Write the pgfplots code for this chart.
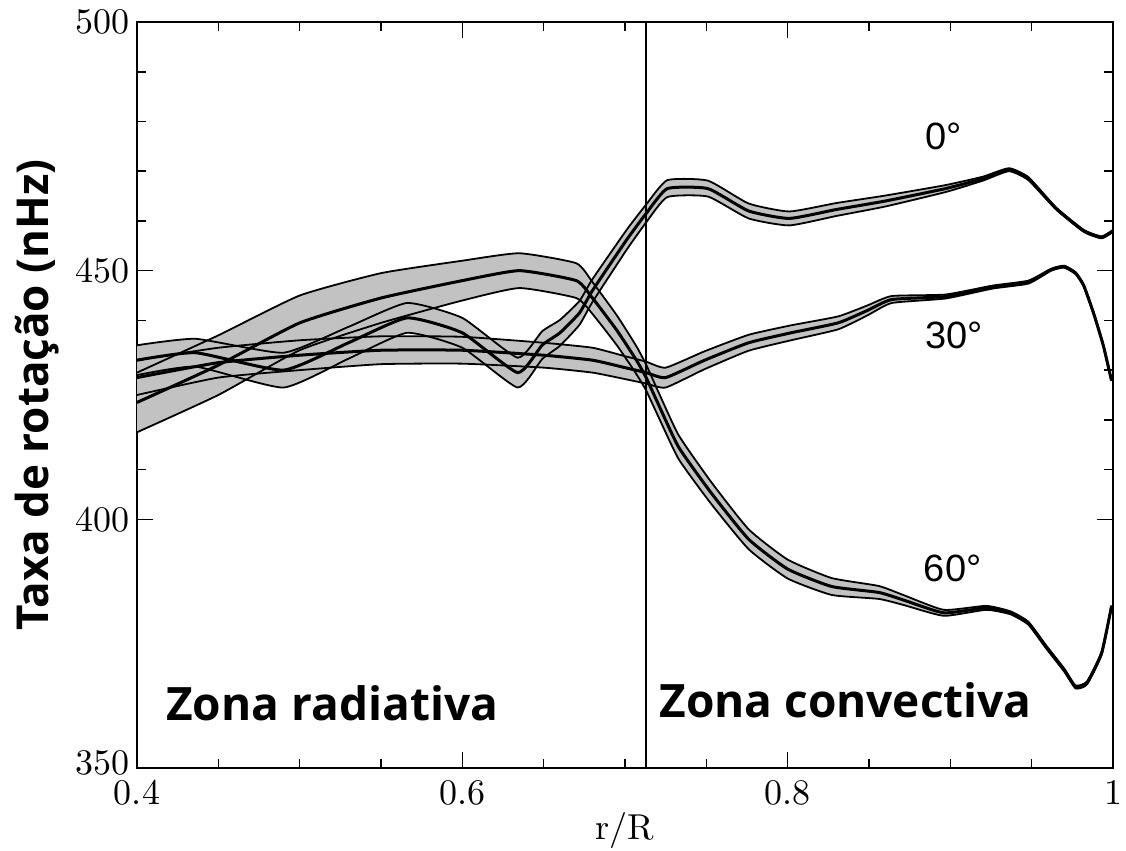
\documentclass[border=0pt]{standalone}
\usepackage{fontspec}
\usepackage{pgfplots}
\usepackage{pgfplotstable}
\pgfplotsset{compat=1.18}
\usepgfplotslibrary{fillbetween}
\usetikzlibrary{calc}
\newfontfamily\labelfont{Open Sans}
\newfontfamily\helv{Liberation Sans}
\newfontfamily\tickfont{lmroman10-regular.otf}

% x = r/R, c = centre (nHz), h = half width of band
\pgfplotstableread{
x c h
0.400 432.0 3.0
0.436 433.5 2.8
0.490 430.0 3.5
0.530 435.5 3.2
0.566 440.5 3.0
0.600 437.5 3.0
0.634 429.5 3.0
0.649 435.0 2.8
0.660 437.5 2.6
0.672 441.5 2.4
0.680 446.0 2.3
0.701 456.2 2.0
0.713 461.5 1.8
0.726 466.5 1.7
0.751 466.5 1.6
0.776 462.0 1.5
0.801 460.5 1.4
0.830 462.3 1.3
0.860 464.0 1.1
0.897 466.5 0.7
0.920 468.5 0.4
0.936 470.3 0.3
0.948 468.5 0.3
0.965 462.5 0.2
0.982 458.0 0.2
0.993 456.7 0.2
1.000 458.0 0.2
}\bandA

\pgfplotstableread{
x c h
0.400 428.5 3.5
0.450 431.5 3.0
0.500 433.0 3.0
0.550 434.0 2.8
0.600 434.0 2.7
0.650 433.0 2.5
0.680 432.0 2.5
0.700 430.5 2.3
0.713 429.5 2.2
0.725 428.5 2.0
0.749 432.0 1.8
0.776 435.5 1.6
0.802 437.5 1.5
0.831 439.5 1.3
0.849 442.0 1.0
0.864 444.2 0.7
0.897 444.8 0.4
0.926 446.7 0.3
0.948 447.7 0.3
0.962 450.2 0.2
0.970 450.8 0.2
0.977 449.5 0.2
0.982 447.0 0.2
0.988 441.5 0.2
0.994 435.0 0.2
0.999 428.0 0.2
}\bandB

\pgfplotstableread{
x c h
0.400 423.5 6.0
0.450 431.0 6.0
0.500 439.5 5.5
0.550 444.5 5.0
0.600 448.0 4.0
0.635 450.0 3.5
0.670 448.0 3.5
0.680 444.5 3.2
0.695 438.0 3.0
0.707 432.0 2.8
0.713 428.5 2.6
0.720 423.5 2.5
0.733 414.5 2.4
0.753 405.3 2.2
0.776 396.0 2.0
0.800 390.0 1.9
0.827 386.5 1.7
0.856 385.3 1.3
0.871 383.8 1.0
0.896 381.2 0.6
0.922 382.2 0.4
0.937 381.2 0.3
0.948 379.1 0.3
0.959 374.3 0.3
0.970 369.7 0.3
0.977 366.3 0.3
0.984 367.1 0.3
0.993 373.1 0.3
0.999 382.4 0.3
}\bandC

\begin{document}
\begin{tikzpicture}
\begin{axis}[
  width=488pt, height=373pt, scale only axis,
  xmin=0.4, xmax=1, ymin=350, ymax=500,
  xtick={0.4,0.6,0.8,1}, ytick={400,450,500},
  extra y ticks={350},
  extra y tick style={yticklabel style={yshift=2.5pt}},
  minor x tick num=3, minor y tick num=4,
  tick align=inside, major tick length=8pt, minor tick length=4.5pt,
  tick style={black, line width=0.8pt},
  axis line style={line width=1pt},
  ticklabel style={font=\tickfont\fontsize{18}{20}\selectfont, inner sep=1pt},
  xticklabel style={yshift=-5pt},
  yticklabel style={xshift=-2.5pt},
  /pgf/number format/assume math mode=true,
  xlabel={r/R},
  xlabel style={font=\tickfont\fontsize{18}{20}\selectfont, yshift=1pt},
  every axis plot/.append style={smooth, tension=0.3},
]
\coordinate (SW) at (rel axis cs:0,0);
\coordinate (NE) at (rel axis cs:1,1);

\addplot[black, line width=0.9pt, name path=au] table[x=x, y expr=\thisrow{c}+\thisrow{h}] {\bandA};
\addplot[black, line width=0.9pt, name path=al] table[x=x, y expr=\thisrow{c}-\thisrow{h}] {\bandA};
\addplot[black, line width=0.9pt, name path=bu] table[x=x, y expr=\thisrow{c}+\thisrow{h}] {\bandB};
\addplot[black, line width=0.9pt, name path=bl] table[x=x, y expr=\thisrow{c}-\thisrow{h}] {\bandB};
\addplot[black, line width=0.9pt, name path=cu] table[x=x, y expr=\thisrow{c}+\thisrow{h}] {\bandC};
\addplot[black, line width=0.9pt, name path=cl] table[x=x, y expr=\thisrow{c}-\thisrow{h}] {\bandC};
\addplot[fill=black!24, draw=none] fill between[of=au and al];
\addplot[fill=black!24, draw=none] fill between[of=bu and bl];
\addplot[fill=black!24, draw=none] fill between[of=cu and cl];
\addplot[black, line width=1.5pt] table[x=x, y=c] {\bandA};
\addplot[black, line width=1.5pt] table[x=x, y=c] {\bandB};
\addplot[black, line width=1.5pt] table[x=x, y=c] {\bandC};

\draw[black, line width=0.9pt] (axis cs:0.713,350) -- (axis cs:0.713,500);

\node[anchor=base west, font=\helv\fontsize{19}{21}\selectfont, inner sep=0pt] at (axis cs:0.8845,474.3) {0°};
\node[anchor=base west, font=\helv\fontsize{19}{21}\selectfont, inner sep=0pt] at (axis cs:0.8845,434.4) {30°};
\node[anchor=base west, font=\helv\fontsize{19}{21}\selectfont, inner sep=0pt] at (axis cs:0.8835,387.4) {60°};
\node[anchor=base west, font=\labelfont\bfseries\fontsize{23}{26}\selectfont, inner sep=0pt] at (axis cs:0.4178,359.6) {Zona radiativa};
\node[anchor=base west, font=\labelfont\bfseries\fontsize{23}{26}\selectfont, inner sep=0pt] at (axis cs:0.7209,360.2) {Zona convectiva};
\end{axis}
\node[rotate=90, font=\labelfont\bfseries\fontsize{22}{24}\selectfont] at ($(SW)!0.5!(SW|-NE)+(-50pt,0)$) {Taxa de rotação (nHz)};
\pgfresetboundingbox
\path[use as bounding box] ($(SW)+(-68.5pt,-41pt)$) rectangle ($(NE)+(6.5pt,11pt)$);
\end{tikzpicture}
\end{document}
